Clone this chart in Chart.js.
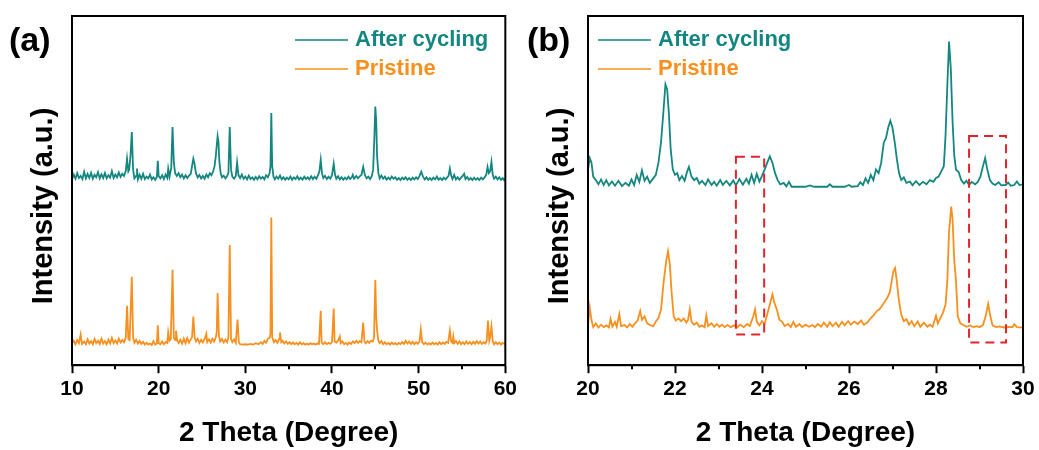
<!DOCTYPE html>
<html>
<head>
<meta charset="utf-8">
<script src="https://cdn.jsdelivr.net/npm/chart.js@4.4.1/dist/chart.umd.min.js"></script>
<style>
  html, body { margin: 0; padding: 0; background: #fff; }
  #wrap { position: relative; width: 1039px; height: 450px; }
  canvas { position: absolute; top: 0; }
  #chartA { left: 0; }
  #chartB { left: 520px; }
</style>
</head>
<body>
<div id="wrap">
  <canvas id="chartA" width="520" height="450"></canvas>
  <canvas id="chartB" width="519" height="450"></canvas>
</div>
<script>
// series names
const seriesNames = ['After cycling', 'Pristine'];

// panel (a): 2 theta 10-60, intensity in arbitrary units (stacked offset)
const aCycling = [[10,53.2],[10.2,54.6],[10.4,53.4],[10.6,55.0],[10.8,53.6],[11.0,54.2],[11.2,53.3],[11.4,55.4],[11.6,53.5],[11.8,54.8],[12.0,53.6],[12.2,55.1],[12.4,53.4],[12.6,54.5],[12.8,53.8],[13.0,55.3],[13.2,53.5],[13.4,54.7],[13.6,53.6],[13.8,55.0],[14.0,53.5],[14.2,54.4],[14.4,53.7],[14.6,55.6],[14.8,53.6],[15.0,54.6],[15.2,53.8],[15.4,55.2],[15.6,53.9],[15.8,54.8],[16.0,54.2],[16.2,55.5],[16.35,59.1],[16.5,55.5],[16.6,56],[16.75,60],[16.9,66.8],[17.05,56],[17.2,53.5],[17.4,54.2],[17.5,56.3],[17.6,53.2],[17.8,54.5],[18.0,53.4],[18.2,54.8],[18.4,53.3],[18.6,54.0],[18.8,53.5],[19.0,54.6],[19.2,53.2],[19.4,53.8],[19.6,53.1],[19.8,54],[19.9,58.5],[20.0,54.2],[20.2,53.5],[20.4,54.4],[20.6,53.3],[20.8,54.6],[21.0,53.6],[21.1,56.3],[21.25,54],[21.45,56.5],[21.6,68.2],[21.75,58],[21.9,55],[22.1,54.2],[22.3,55],[22.5,53.8],[22.7,54.6],[22.9,53.5],[23.1,54.4],[23.3,53.6],[23.5,54.3],[23.7,54.8],[23.85,57],[24.0,59.1],[24.15,57.5],[24.3,55],[24.5,53.8],[24.7,54.5],[24.9,53.5],[25.1,54.2],[25.3,53.4],[25.5,54.6],[25.7,53.8],[25.9,55],[26.1,54.4],[26.3,55.6],[26.45,57],[26.6,60],[26.7,63],[26.8,65.6],[26.9,64],[27.0,58.5],[27.15,55],[27.3,53.8],[27.5,54.3],[27.7,53.5],[27.9,54.2],[28.05,55],[28.2,68.2],[28.35,56],[28.5,54],[28.7,53.4],[28.9,54.2],[29.05,58],[29.2,54.5],[29.4,53.6],[29.6,54.6],[29.8,53.4],[30.0,54.0],[30.2,53.2],[30.4,54.3],[30.6,53.3],[30.8,53.8],[31.0,53.1],[31.2,53.9],[31.4,53.2],[31.6,54.1],[31.8,53.4],[32.0,53.9],[32.2,53.2],[32.4,54.4],[32.6,53.8],[32.8,55],[32.9,57],[33.0,72.2],[33.1,57],[33.25,54],[33.4,53.2],[33.6,54],[33.8,53.4],[34.0,54.3],[34.2,53.2],[34.4,53.8],[34.6,53.1],[34.8,53.7],[35.0,53.2],[35.2,54.0],[35.4,53.1],[35.6,53.8],[35.8,53.3],[36.0,54.1],[36.2,53.2],[36.4,53.7],[36.6,53.1],[36.8,54.0],[37.0,53.3],[37.2,53.8],[37.4,53.2],[37.6,54.1],[37.8,53.3],[38.0,54.0],[38.2,53.4],[38.4,54.5],[38.55,55.5],[38.7,58.8],[38.85,55],[39.0,53.6],[39.2,54.2],[39.4,53.3],[39.6,54.0],[39.8,53.4],[40.0,54.4],[40.2,57.7],[40.35,54.5],[40.5,53.4],[40.7,54.1],[40.9,53.2],[41.1,53.8],[41.3,53.1],[41.5,53.7],[41.7,53.2],[41.9,54.0],[42.1,53.3],[42.3,53.9],[42.4,54.5],[42.55,53.4],[42.8,54.2],[43.0,53.5],[43.2,54.1],[43.4,54.5],[43.6,56.8],[43.8,54.4],[44.0,53.5],[44.2,54.0],[44.4,53.3],[44.6,54.2],[44.75,56],[44.9,66],[45.0,74.1],[45.1,70],[45.2,60],[45.35,55],[45.5,53.5],[45.7,54.3],[45.9,53.4],[46.1,54.0],[46.3,53.1],[46.5,53.7],[46.7,53.2],[46.9,54.0],[47.1,53.4],[47.3,53.8],[47.5,53.1],[47.7,53.6],[47.9,53.0],[48.1,53.7],[48.3,53.2],[48.5,53.8],[48.7,53.1],[48.9,53.6],[49.1,53.0],[49.3,53.7],[49.5,53.2],[49.7,53.8],[49.9,53.3],[50.1,54.2],[50.3,55.4],[50.5,54],[50.7,53.2],[50.9,53.8],[51.1,53.1],[51.3,53.6],[51.5,53.0],[51.7,53.7],[51.9,53.2],[52.1,54.0],[52.3,53.1],[52.5,53.6],[52.7,53.0],[52.9,53.7],[53.1,53.2],[53.3,53.8],[53.45,54.2],[53.6,56.3],[53.75,54.3],[53.9,53.3],[54.1,54.5],[54.3,53.2],[54.5,53.8],[54.7,53.1],[54.9,53.7],[55.1,54.3],[55.25,54.8],[55.4,53.3],[55.6,53.9],[55.8,53.1],[56.0,53.6],[56.2,53.0],[56.4,53.7],[56.6,53.1],[56.8,53.6],[57.0,53.0],[57.2,53.7],[57.4,53.2],[57.6,53.8],[57.8,54.5],[57.95,56.8],[58.1,55],[58.25,55.5],[58.4,58.2],[58.55,54.5],[58.7,53.4],[58.9,54.0],[59.1,53.2],[59.3,53.8],[59.5,53.1],[59.7,53.6],[59.85,53.0],[60,53.4]];

const aPristine = [[10,6.2],[10.2,7.0],[10.4,6.0],[10.6,7.2],[10.8,6.3],[11.0,8.8],[11.15,6.1],[11.4,6.8],[11.6,6.0],[11.8,7.4],[12.0,6.2],[12.2,6.9],[12.4,6.0],[12.6,7.5],[12.8,6.3],[13.0,7.0],[13.2,6.1],[13.4,7.6],[13.6,6.2],[13.8,6.9],[14.0,6.0],[14.2,7.3],[14.4,6.2],[14.6,7.8],[14.8,6.3],[15.0,7.1],[15.2,6.2],[15.4,7.6],[15.6,6.5],[15.8,7.2],[16.0,6.6],[16.2,7.8],[16.35,17],[16.5,7.5],[16.65,7.2],[16.9,25.3],[17.05,8],[17.2,6.4],[17.4,7.3],[17.6,6.2],[17.8,7.0],[18.0,6.1],[18.2,6.7],[18.4,5.9],[18.6,6.4],[18.8,5.9],[19.0,6.2],[19.2,5.8],[19.4,6.9],[19.6,5.9],[19.8,6.3],[19.9,11.4],[20.0,6.3],[20.2,6.0],[20.4,6.8],[20.6,6.0],[20.8,6.6],[21.0,6.4],[21.1,9.4],[21.25,7],[21.4,7.4],[21.6,27.3],[21.75,8],[21.9,7.2],[22.0,9.9],[22.15,7],[22.3,6.4],[22.5,7.3],[22.7,6.2],[22.9,7.6],[23.1,6.3],[23.3,7.8],[23.5,6.5],[23.7,7.4],[23.85,8],[24.0,13.9],[24.15,8],[24.3,6.8],[24.5,7.6],[24.7,6.4],[24.9,7.3],[25.1,6.5],[25.3,7.5],[25.5,9],[25.6,6.6],[25.8,7.4],[26.0,6.5],[26.2,7.6],[26.4,6.8],[26.6,8],[26.7,9.5],[26.8,20.7],[26.95,8.5],[27.1,6.8],[27.3,7.5],[27.5,6.5],[27.7,7.3],[27.9,6.6],[28.05,8],[28.2,34.4],[28.35,7.5],[28.5,6.6],[28.7,7.4],[28.9,6.4],[29.1,13.1],[29.25,6.5],[29.4,6.0],[29.7,5.9],[30.0,6.0],[30.3,5.9],[30.6,6.1],[30.9,5.9],[31.2,6.3],[31.5,6.0],[31.8,6.6],[32.0,6.1],[32.2,7.0],[32.4,6.4],[32.6,7.6],[32.8,7.8],[32.9,9],[33.0,42.3],[33.1,8],[33.3,6.6],[33.5,7.2],[33.7,6.4],[33.9,7.5],[34.0,9.4],[34.15,6.6],[34.3,7.0],[34.5,6.2],[34.7,6.8],[34.9,6.1],[35.1,6.6],[35.3,6.0],[35.5,6.5],[35.7,6.0],[35.9,6.4],[36.1,5.9],[36.3,6.6],[36.5,6.0],[36.7,6.3],[36.9,5.9],[37.1,6.2],[37.3,5.9],[37.5,6.3],[37.7,6.0],[37.9,6.2],[38.1,5.9],[38.3,6.2],[38.5,6.1],[38.7,15.6],[38.8,6.5],[39.0,6.0],[39.2,6.6],[39.4,6.0],[39.6,6.4],[39.8,6.1],[40.0,6.6],[40.2,16.2],[40.3,6.8],[40.5,6.5],[40.7,7.0],[40.9,8.2],[41.0,6.3],[41.2,6.8],[41.4,6.0],[41.6,6.4],[41.8,5.9],[42.0,6.5],[42.2,6.1],[42.4,6.8],[42.6,6.3],[42.8,7.0],[43.0,6.4],[43.2,6.9],[43.4,6.6],[43.6,12.2],[43.75,6.8],[43.9,6.3],[44.1,6.9],[44.3,6.4],[44.5,7.0],[44.7,6.8],[44.85,8],[45.0,24.4],[45.1,13.9],[45.2,10],[45.35,7],[45.5,6.3],[45.7,6.9],[45.9,6.0],[46.1,6.6],[46.3,6.0],[46.5,6.4],[46.7,5.9],[46.9,6.5],[47.1,6.0],[47.3,6.3],[47.5,5.9],[47.7,6.4],[47.9,6.0],[48.1,6.6],[48.3,6.1],[48.5,7.0],[48.7,6.2],[48.9,6.8],[49.1,6.1],[49.3,6.7],[49.5,6.0],[49.7,6.6],[49.9,6.1],[50.1,6.8],[50.25,10.2],[50.4,6.6],[50.6,6.0],[50.8,6.5],[51.0,5.9],[51.2,6.3],[51.4,5.9],[51.6,6.5],[51.8,6.0],[52.0,6.4],[52.2,5.9],[52.4,6.6],[52.6,6.0],[52.8,6.5],[53.0,6.1],[53.2,6.7],[53.4,6.4],[53.6,9.9],[53.75,6.8],[53.9,6.4],[54.0,8.2],[54.1,6.3],[54.3,6.9],[54.5,6.1],[54.7,6.8],[54.9,6.0],[55.1,6.6],[55.3,6.0],[55.5,6.8],[55.7,6.1],[55.9,6.6],[56.1,6.0],[56.3,6.7],[56.5,6.1],[56.7,6.9],[56.9,6.2],[57.1,6.8],[57.3,6.1],[57.5,6.6],[57.7,6.2],[57.85,7],[58.0,12.8],[58.15,7],[58.25,8],[58.4,11.1],[58.55,6.8],[58.7,6.0],[58.9,6.6],[59.1,6.0],[59.3,6.5],[59.5,5.9],[59.7,6.4],[60,6.0]];

// panel (b): zoom on 2 theta 20-30
const bCycling = [[20.0,56],[20.04,59.3],[20.08,58],[20.12,54],[20.18,53],[20.24,51.8],[20.3,53.2],[20.36,51.6],[20.42,53.0],[20.48,51.5],[20.55,52.6],[20.62,51.4],[20.7,52.8],[20.78,51.3],[20.86,52.2],[20.94,51.4],[21.0,53.2],[21.06,51.6],[21.12,54.5],[21.18,52.5],[21.24,55.8],[21.3,52.8],[21.36,54],[21.42,52.2],[21.5,53.5],[21.56,54.5],[21.62,58],[21.68,64],[21.73,72],[21.78,80.4],[21.82,79],[21.86,72],[21.9,62],[21.95,56],[22.0,54.5],[22.05,55],[22.1,53],[22.16,54.2],[22.22,52.8],[22.28,55.5],[22.32,56.8],[22.38,54],[22.44,53],[22.5,53.6],[22.56,52],[22.62,52.8],[22.7,51.6],[22.76,53.2],[22.84,51.6],[22.9,52.5],[22.96,51.4],[23.04,53],[23.1,51.6],[23.18,52.8],[23.26,51.5],[23.34,52.9],[23.4,51.5],[23.48,53.3],[23.56,51.7],[23.64,53.4],[23.7,52],[23.76,54.5],[23.82,52.2],[23.88,54.8],[23.94,52.6],[24.0,54.2],[24.06,56],[24.12,58],[24.18,59.8],[24.24,58],[24.3,55],[24.36,53],[24.42,51.8],[24.5,52.2],[24.56,51.2],[24.62,52.5],[24.68,51.1],[24.8,51.1],[25.0,51.1],[25.1,51.5],[25.2,51.1],[25.5,51.1],[25.56,51.8],[25.62,51.1],[25.9,51.1],[26.0,51.6],[26.06,51.1],[26.2,51.3],[26.26,52.4],[26.32,51.6],[26.38,53.5],[26.44,52.2],[26.5,54.5],[26.56,53],[26.62,56],[26.68,55],[26.74,58],[26.8,63.8],[26.85,65],[26.9,68],[26.95,70],[27.0,68],[27.05,64],[27.1,59],[27.15,55],[27.2,53],[27.26,53.8],[27.32,52.2],[27.4,52.6],[27.46,51.5],[27.54,52.7],[27.62,51.6],[27.7,52.5],[27.78,51.8],[27.86,53],[27.94,52.5],[28.0,53.6],[28.06,54],[28.12,55.5],[28.18,57],[28.22,66],[28.26,80],[28.3,92.7],[28.34,85],[28.38,70],[28.42,60],[28.46,56],[28.52,55.3],[28.58,53],[28.64,52],[28.7,52.8],[28.76,51.6],[28.82,52.5],[28.9,51.8],[28.96,52.5],[29.02,54],[29.08,57],[29.13,59.3],[29.18,56],[29.24,53],[29.3,52],[29.36,51.6],[29.44,52.4],[29.5,51.5],[29.6,51.6],[29.66,52.3],[29.72,51.4],[29.8,51.6],[29.86,52.6],[29.92,51.6],[30,51.8]];

const bPristine = [[20.0,11.5],[20.04,16.5],[20.08,13],[20.12,10.9],[20.18,12],[20.24,10.8],[20.3,11.6],[20.36,10.9],[20.42,11.4],[20.48,10.8],[20.52,13.2],[20.56,11],[20.62,12.4],[20.66,11],[20.72,14.6],[20.76,11.2],[20.84,11.5],[20.9,10.8],[20.96,11.8],[21.02,11],[21.08,12],[21.14,12.8],[21.2,15.5],[21.24,13],[21.3,14],[21.36,12],[21.42,11.5],[21.5,11.2],[21.56,12.5],[21.62,13.5],[21.68,16],[21.74,24],[21.8,30],[21.84,32.6],[21.88,29],[21.92,21.2],[21.97,14],[22.02,12.8],[22.08,13.4],[22.14,12.6],[22.2,13.4],[22.26,12.2],[22.3,13],[22.34,16],[22.38,12.4],[22.44,11.6],[22.5,12.2],[22.56,11],[22.62,11.4],[22.68,10.9],[22.72,14.2],[22.76,11.2],[22.84,12],[22.9,11],[22.96,11.8],[23.02,11],[23.08,11.6],[23.14,10.9],[23.2,11.5],[23.28,10.9],[23.36,11.4],[23.42,10.8],[23.5,11.6],[23.58,10.9],[23.66,11.8],[23.72,11.2],[23.8,14],[23.84,16],[23.88,12.5],[23.94,11.4],[24.0,12.6],[24.06,11.8],[24.12,14.5],[24.18,17.4],[24.24,20.3],[24.28,18],[24.34,16],[24.4,13],[24.46,12.5],[24.52,11.2],[24.6,11.8],[24.66,10.9],[24.72,12.4],[24.78,11],[24.86,11.8],[24.92,10.9],[25.0,11.6],[25.08,11],[25.16,11.5],[25.22,10.9],[25.28,11.8],[25.36,11],[25.42,12.2],[25.5,11],[25.56,12.3],[25.62,11.2],[25.7,12.2],[25.76,11],[25.84,12.4],[25.9,11.4],[25.98,12.6],[26.04,11.6],[26.12,12.5],[26.2,11.8],[26.28,12.8],[26.34,11.6],[26.42,12.2],[26.5,13.5],[26.56,14.2],[26.64,15.5],[26.7,16],[26.76,17],[26.82,18.2],[26.88,19.3],[26.94,21],[26.98,24],[27.02,26.9],[27.06,27.8],[27.1,24],[27.14,19.3],[27.2,14.5],[27.26,12.6],[27.32,13.2],[27.38,11.6],[27.44,12.6],[27.5,11.2],[27.58,12.5],[27.64,11],[27.72,12.2],[27.8,11],[27.86,11.6],[27.92,11],[28.0,14.1],[28.04,12],[28.1,13.5],[28.16,15],[28.22,17.4],[28.26,24],[28.3,38.3],[28.35,45.4],[28.38,42],[28.42,30],[28.46,24.1],[28.5,14],[28.56,12],[28.62,11.6],[28.7,11],[28.78,11.4],[28.86,10.9],[28.94,11.2],[29.0,10.9],[29.08,11.5],[29.14,14],[29.2,17.6],[29.25,14],[29.3,11.4],[29.38,10.9],[29.46,11.1],[29.56,10.8],[29.66,11],[29.76,10.9],[29.8,11.7],[29.86,10.9],[30,10.8]];

// tick labels
const xTicksA = [10, 20, 30, 40, 50, 60];
const xTicksB = [20, 22, 24, 26, 28, 30];

// dashed highlight boxes in (b): [x1, yTop, x2, yBottom]
const boxesB = [[23.40, 59.7, 24.05, 8.8], [28.76, 65.6, 29.61, 6.5]];

const TEAL = '#13877f';
const ORANGE = '#f7901e';
const FONT = "'Liberation Sans', Arial, sans-serif";

const decorPlugin = {
  id: 'decor',
  afterDatasetsDraw(chart, args, o) {
    const { ctx, chartArea: a, scales: { x, y } } = chart;
    ctx.save();

    // red dashed boxes
    ctx.strokeStyle = '#e0242c';
    ctx.lineWidth = 2;
    ctx.setLineDash([9, 6]);
    (o.boxes || []).forEach(b => {
      const x1 = x.getPixelForValue(b[0]), x2 = x.getPixelForValue(b[2]);
      const y1 = y.getPixelForValue(b[1]), y2 = y.getPixelForValue(b[3]);
      ctx.strokeRect(x1, y1, x2 - x1, y2 - y1);
    });
    ctx.setLineDash([]);

    // frame
    ctx.strokeStyle = '#000';
    ctx.lineWidth = 2;
    ctx.strokeRect(a.left, a.top, a.right - a.left, a.bottom - a.top);

    // minor ticks between majors
    const t = o.ticks;
    ctx.beginPath();
    for (let i = 0; i < t.length - 1; i++) {
      const px = Math.round(x.getPixelForValue((t[i] + t[i + 1]) / 2));
      ctx.moveTo(px, a.bottom);
      ctx.lineTo(px, a.bottom + 4);
    }
    ctx.stroke();

    // y title
    ctx.fillStyle = '#000';
    ctx.font = 'bold 29px ' + FONT;
    ctx.textAlign = 'center';
    ctx.textBaseline = 'middle';
    ctx.translate(o.yTitleX, o.yTitleY);
    ctx.rotate(-Math.PI / 2);
    ctx.fillText('Intensity (a.u.)', 0, 0);
    ctx.setTransform(1, 0, 0, 1, 0, 0);

    // panel label
    ctx.font = 'bold 34px ' + FONT;
    ctx.textAlign = 'left';
    ctx.fillText(o.panel, o.panelX, 42);

    // legend
    ctx.font = 'bold 22px ' + FONT;
    chart.data.datasets.forEach((ds, i) => {
      const ly = 40 + i * 29;
      ctx.strokeStyle = ds.borderColor;
      ctx.lineWidth = 1.5;
      ctx.beginPath();
      ctx.moveTo(o.legendX, ly);
      ctx.lineTo(o.legendX + 53, ly);
      ctx.stroke();
      ctx.fillStyle = ds.borderColor;
      ctx.fillText(ds.label, o.legendX + 60, ly);
    });
    ctx.restore();
  }
};

function makeChart(id, cyc, pri, ticks, pad, decor) {
  return new Chart(document.getElementById(id), {
    type: 'line',
    data: {
      datasets: [
        { label: seriesNames[0], data: cyc, borderColor: TEAL, borderWidth: 1.8, pointRadius: 0, tension: 0 },
        { label: seriesNames[1], data: pri, borderColor: ORANGE, borderWidth: 1.8, pointRadius: 0, tension: 0 }
      ]
    },
    options: {
      responsive: false,
      animation: false,
      layout: { padding: pad },
      plugins: { legend: { display: false }, tooltip: { enabled: false }, decor: decor },
      scales: {
        x: {
          type: 'linear',
          min: ticks[0],
          max: ticks[ticks.length - 1],
          afterBuildTicks: s => { s.ticks = ticks.map(v => ({ value: v })); },
          ticks: { color: '#000', font: { family: FONT, size: 21, weight: 'bold' }, padding: 3, maxRotation: 0, autoSkip: false },
          grid: { display: true, drawOnChartArea: false, drawTicks: true, tickLength: 8, tickWidth: 2, tickColor: '#000' },
          border: { display: true, color: '#000', width: 2 },
          title: { display: true, text: '2 Theta (Degree)', color: '#000', font: { family: FONT, size: 28, weight: 'bold' }, padding: { top: 12, bottom: 0 } }
        },
        y: { min: 0, max: 100, display: false }
      }
    },
    plugins: [decorPlugin]
  });
}

makeChart('chartA', aCycling, aPristine, xTicksA,
  { left: 72, right: 13, top: 16, bottom: 0 },
  { ticks: xTicksA, boxes: [], panel: '(a)', panelX: 9, yTitleX: 44, yTitleY: 206, legendX: 295 });

makeChart('chartB', bCycling, bPristine, xTicksB,
  { left: 68, right: 16, top: 16, bottom: 0 },
  { ticks: xTicksB, boxes: boxesB, panel: '(b)', panelX: 7, yTitleX: 40, yTitleY: 206, legendX: 78 });
</script>
</body>
</html>
